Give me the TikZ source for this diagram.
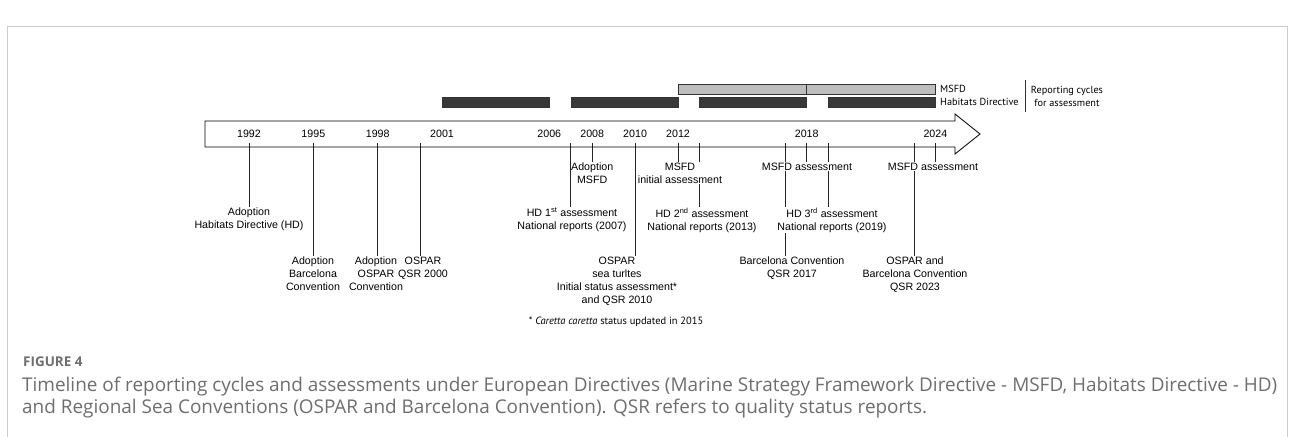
\documentclass[tikz,border=0pt]{standalone}
\usepackage{fontspec}
\setmainfont{Liberation Sans}
\newfontfamily\keyfont{PT Sans}
\newfontfamily\captionfont{Open Sans}
\usetikzlibrary{backgrounds}
\definecolor{bardark}{HTML}{383838}
\definecolor{barlight}{HTML}{BEBEBE}
\definecolor{framegray}{HTML}{CCCCCC}
\definecolor{capgray}{HTML}{6E6E6E}
\newcommand\yx[1]{249+21.45*(#1-1992)}
\begin{document}
\begin{tikzpicture}[x=1bp,y=-1bp,
	yearlabel/.style={font=\fontsize{10.7}{13}\selectfont, inner sep=0pt},
	event/.style={font=\fontsize{10.7}{13}\selectfont, align=center, anchor=north, inner xsep=0pt, inner ysep=0.8pt},
	hide/.style={event, fill=white},
	tick/.style={line width=0.8bp, black!85},
	cyclebar/.style={draw=black!80, line width=0.5bp},
	hdbar/.style={cyclebar, fill=bardark},
	msfdbar/.style={cyclebar, fill=barlight},
	keytext/.style={font=\keyfont\fontsize{10.3}{13}\selectfont, inner sep=0pt}]
	\useasboundingbox (0,0) rectangle (1293,437);
	\draw[framegray, line width=1bp] (7,437) -- (7,27) -- (1287,27) -- (1287,437);
	\draw[msfdbar] ({\yx{2012}},84) rectangle ({\yx{2018}},94);
	\draw[msfdbar] ({\yx{2018}},84) rectangle ({\yx{2024}},94);
	\foreach \a/\b in {2001/2006, 2007/2012, 2013/2018, 2019/2024}
		\draw[hdbar] ({\yx{\a}},97) rectangle ({\yx{\b}},107);
	\node[keytext, anchor=west] (kmsfd) at (940,89) {MSFD};
	\node[keytext, anchor=west] (khd) at (940,102) {Habitats Directive};
	\draw[line width=0.6bp, black!80] (1025,80) -- (1025,112);
	\node[keytext, align=center] (krep) at (1067,96) {Reporting cycles\\for assessment};
	\draw[line width=0.8bp] (205,121) -- (955,121) -- (955,114) -- (980,134) -- (955,154) -- (955,147) -- (205,147) -- cycle;
	\foreach \y in {1992,1995,1998,2001,2006,2008,2010,2012,2018,2024}
		\node[yearlabel] (y\y) at ({\yx{\y}},134) {\y};
	\foreach \y in {1992,1995,1998,2000,2007,2008,2010,2012,2013,2017,2018,2019,2023,2024}
		\coordinate (t\y) at ({\yx{\y}},147);
	\node[event] (msfd08) at ({\yx{2008}},162) {Adoption\\MSFD};
	\node[hide] (msfd12) at (680,162) {MSFD\\initial assessment};
	\node[hide] (msfd18) at (807,162) {MSFD assessment};
	\node[hide] (msfd24) at (933,162) {MSFD assessment};
	\node[event] (hd92) at (249,207) {Adoption\\Habitats Directive (HD)};
	\node[hide] (hd07) at (572,207) {HD 1\textsuperscript{st} assessment\\National reports (2007)};
	\node[event] (hd13) at (702,207) {HD 2\textsuperscript{nd} assessment\\National reports (2013)};
	\node[hide] (hd19) at (832,207) {HD 3\textsuperscript{rd} assessment\\National reports (2019)};
	\node[event] (bc95) at (313,256) {Adoption\\Barcelona\\Convention};
	\node[event] (os98) at (376,256) {Adoption\\OSPAR\\Convention};
	\node[event] (qsr00) at (423,256) {OSPAR\\QSR 2000};
	\node[event] (qsr10) at (617,256) {OSPAR\\sea turltes\\Initial status assessment*\\and QSR 2010};
	\node[event] (qsr17) at (792,256) {Barcelona Convention\\QSR 2017};
	\node[event] (qsr23) at (915,256) {OSPAR and\\Barcelona Convention\\QSR 2023};
	\begin{scope}[on background layer]
		\foreach \y/\n in {1992/hd92, 1995/bc95, 1998/os98, 2000/qsr00, 2007/hd07, 2008/msfd08, 2010/qsr10, 2012/msfd12, 2013/hd13, 2017/qsr17, 2018/msfd18, 2019/hd19, 2023/qsr23, 2024/msfd24}
			\draw[tick] ([yshift=4bp]t\y) -- (t\y |- \n.north);
	\end{scope}
	\node[keytext, font=\keyfont\fontsize{10.5}{13}\selectfont] (note) at (616,322) {* \textit{Caretta caretta} status updated in 2015};
	\node[anchor=west, font=\captionfont\bfseries\fontsize{13.5}{16}\selectfont, text=capgray, inner sep=0pt] (fig) at (23,362) {FIGURE 4};
	\node[anchor=north west, align=left, font=\captionfont\fontsize{19}{22}\selectfont, text=capgray, inner sep=0pt] (cap) at (22,377) {Timeline of reporting cycles and assessments under European Directives (Marine Strategy Framework Directive - MSFD, Habitats Directive - HD)\\and Regional Sea Conventions (OSPAR and Barcelona Convention). QSR refers to quality status reports.};
\end{tikzpicture}
\end{document}
